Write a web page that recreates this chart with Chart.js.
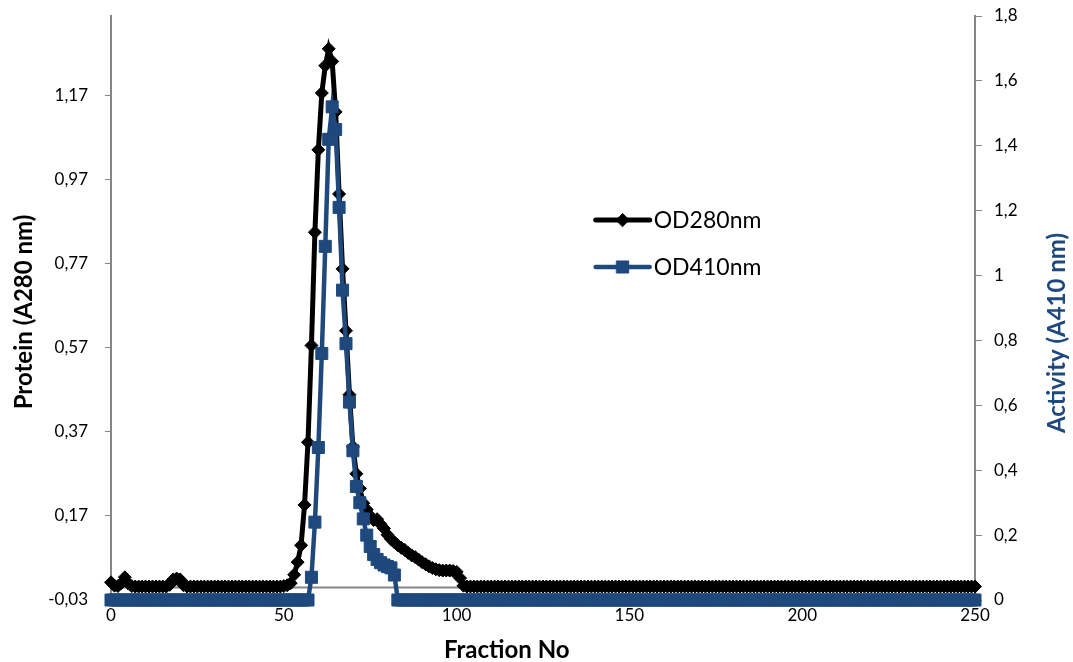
<!DOCTYPE html>
<html>
<head>
<meta charset="utf-8">
<script src="https://cdn.jsdelivr.net/npm/chart.js@4.4.0/dist/chart.umd.min.js"></script>
<style>
html,body{margin:0;padding:0;background:#fff;}
#wrap{width:1073px;height:662px;position:relative;}
</style>
</head>
<body>
<div id="wrap"><canvas id="c" width="1073" height="662"></canvas></div>
<script>
// ---------------- DATA ----------------
const fractionTicks = [0, 50, 100, 150, 200, 250];
const proteinTicks = [-0.03, 0.17, 0.37, 0.57, 0.77, 0.97, 1.17];
const activityTicks = [0, 0.2, 0.4, 0.6, 0.8, 1.0, 1.2, 1.4, 1.6, 1.8];
const seriesLabels = ['OD280nm', 'OD410nm'];
const axisTitles = { x: 'Fraction No', left: 'Protein (A280 nm)', right: 'Activity (A410 nm)' };

// Protein, OD280 (left axis), one value per fraction 0..250
const od280 = [
  0.012,0.004,0.003,0.010,0.024,0.009,0.003,0.002,0.002,0.002,
  0.002,0.002,0.002,0.002,0.002,0.002,0.002,0.006,0.019,0.021,
  0.019,0.005,0.002,0.002,0.002,0.002,0.002,0.002,0.002,0.002,
  0.002,0.002,0.002,0.002,0.002,0.002,0.002,0.002,0.002,0.002,
  0.002,0.002,0.002,0.002,0.002,0.002,0.002,0.002,0.002,0.002,
  0.003,0.005,0.010,0.030,0.060,0.100,0.196,0.345,0.575,0.844,
  1.040,1.175,1.240,1.280,1.250,1.130,0.935,0.757,0.610,0.458,
  0.334,0.270,0.235,0.200,0.185,0.170,0.160,0.162,0.150,0.140,
  0.125,0.115,0.107,0.100,0.094,0.089,0.082,0.076,0.072,0.066,
  0.060,0.055,0.050,0.046,0.043,0.041,0.040,0.040,0.040,0.039,
  0.037,0.022,0.004,0.002,0.002,0.002,0.002,0.002,0.002,0.002,
  0.002,0.002,0.002,0.002,0.002,0.002,0.002,0.002,0.002,0.002,
  0.002,0.002,0.002,0.002,0.002,0.002,0.002,0.002,0.002,0.002,
  0.002,0.002,0.002,0.002,0.002,0.002,0.002,0.002,0.002,0.002,
  0.002,0.002,0.002,0.002,0.002,0.002,0.002,0.002,0.002,0.002,
  0.002,0.002,0.002,0.002,0.002,0.002,0.002,0.002,0.002,0.002,
  0.002,0.002,0.002,0.002,0.002,0.002,0.002,0.002,0.002,0.002,
  0.002,0.002,0.002,0.002,0.002,0.002,0.002,0.002,0.002,0.002,
  0.002,0.002,0.002,0.002,0.002,0.002,0.002,0.002,0.002,0.002,
  0.002,0.002,0.002,0.002,0.002,0.002,0.002,0.002,0.002,0.002,
  0.002,0.002,0.002,0.002,0.002,0.002,0.002,0.002,0.002,0.002,
  0.002,0.002,0.002,0.002,0.002,0.002,0.002,0.002,0.002,0.002,
  0.002,0.002,0.002,0.002,0.002,0.002,0.002,0.002,0.002,0.002,
  0.002,0.002,0.002,0.002,0.002,0.002,0.002,0.002,0.002,0.002,
  0.002,0.002,0.002,0.002,0.002,0.002,0.002,0.002,0.002,0.002,
  0.002
];

// Activity, OD410 (right axis), one value per fraction 0..250
const od410 = [
  0,0,0,0,0,0,0,0,0,0,
  0,0,0,0,0,0,0,0,0,0,
  0,0,0,0,0,0,0,0,0,0,
  0,0,0,0,0,0,0,0,0,0,
  0,0,0,0,0,0,0,0,0,0,
  0,0,0,0,0,0,0,0,0.07,0.24,
  0.47,0.76,1.09,1.42,1.52,1.45,1.21,0.955,0.79,0.61,
  0.46,0.35,0.30,0.25,0.20,0.165,0.14,0.125,0.115,0.108,
  0.103,0.099,0.077,0,0,0,0,0,0,0,
  0,0,0,0,0,0,0,0,0,0,
  0,0,0,0,0,0,0,0,0,0,
  0,0,0,0,0,0,0,0,0,0,
  0,0,0,0,0,0,0,0,0,0,
  0,0,0,0,0,0,0,0,0,0,
  0,0,0,0,0,0,0,0,0,0,
  0,0,0,0,0,0,0,0,0,0,
  0,0,0,0,0,0,0,0,0,0,
  0,0,0,0,0,0,0,0,0,0,
  0,0,0,0,0,0,0,0,0,0,
  0,0,0,0,0,0,0,0,0,0,
  0,0,0,0,0,0,0,0,0,0,
  0,0,0,0,0,0,0,0,0,0,
  0,0,0,0,0,0,0,0,0,0,
  0,0,0,0,0,0,0,0,0,0,
  0,0,0,0,0,0,0,0,0,0,
  0
];

const firstFraction = 0; // fraction numbers run from 0 upward, step 1

// ---------------- STYLE ----------------
const BLUE = '#1F497D';
const BLACK = '#000000';
const GREY = '#868686';
const FONT = 'Lato, "Open Sans", sans-serif';

const toPts = arr => arr.map((v, i) => ({ x: firstFraction + i, y: v }));
const comma2 = v => Number(v).toFixed(2).replace('.', ',');
const comma1 = v => { const r = Math.round(v * 10) / 10; return String(r).replace('.', ','); };

const noPad = s => { s.paddingTop = 0; s.paddingBottom = 0; s.paddingLeft = 0; s.paddingRight = 0; };

const extras = {
  id: 'extras',
  beforeDatasetsDraw(chart) {
    const { ctx, chartArea, scales } = chart;
    const y0 = scales.y.getPixelForValue(0);
    ctx.save();
    ctx.strokeStyle = GREY;
    ctx.lineWidth = 2;
    ctx.beginPath();
    ctx.moveTo(chartArea.left, y0);
    ctx.lineTo(chartArea.right, y0);
    ctx.stroke();
    ctx.restore();
  },
  afterDraw(chart) {
    const { ctx, chartArea } = chart;
    const W = chart.width, H = chart.height;
    const midY = (chartArea.top + chartArea.bottom) / 2;
    ctx.save();
    ctx.textAlign = 'center';
    ctx.textBaseline = 'middle';
    ctx.font = 'bold 24px ' + FONT;
    ctx.fillStyle = BLACK;
    ctx.fillText(axisTitles.x, chartArea.left + (chartArea.right - chartArea.left) * 0.458, H - 12);
    ctx.save();
    ctx.translate(24, midY + 4);
    ctx.rotate(-Math.PI / 2);
    ctx.fillText(axisTitles.left, 0, 0);
    ctx.restore();
    ctx.save();
    ctx.fillStyle = BLUE;
    ctx.translate(W - 16, midY + 25);
    ctx.rotate(-Math.PI / 2);
    ctx.fillText(axisTitles.right, 0, 0);
    ctx.restore();

    // legend
    const lx = chartArea.left + (chartArea.right - chartArea.left) * 0.561;
    const rows = [
      { ds: chart.data.datasets[1], y: chartArea.top + 204 },
      { ds: chart.data.datasets[0], y: chartArea.top + 251 }
    ];
    rows.forEach(r => {
      ctx.strokeStyle = r.ds.borderColor;
      ctx.lineWidth = r.ds.borderWidth;
      ctx.lineCap = 'round';
      ctx.beginPath();
      ctx.moveTo(lx, r.y);
      ctx.lineTo(lx + 54, r.y);
      ctx.stroke();
      ctx.fillStyle = r.ds.pointBackgroundColor;
      ctx.strokeStyle = r.ds.pointBorderColor;
      ctx.lineWidth = 1;
      Chart.helpers.drawPoint(ctx, {
        pointStyle: r.ds.pointStyle, radius: r.ds.pointRadius, borderWidth: 1
      }, lx + 27, r.y);
      ctx.fillStyle = BLACK;
      ctx.textAlign = 'left';
      ctx.font = '23px ' + FONT;
      ctx.fillText(r.ds.label, lx + 58, r.y + 1);
    });
    ctx.restore();
  }
};

new Chart(document.getElementById('c'), {
  type: 'line',
  data: {
    datasets: [
      {
        label: seriesLabels[1], data: toPts(od410), yAxisID: 'y1',
        borderColor: BLUE, backgroundColor: BLUE, borderWidth: 4.5,
        pointStyle: 'rect', pointRadius: 8.5, pointBorderWidth: 1,
        pointBackgroundColor: BLUE, pointBorderColor: BLUE,
        tension: 0, order: 0, clip: false
      },
      {
        label: seriesLabels[0], data: toPts(od280), yAxisID: 'y',
        borderColor: BLACK, backgroundColor: BLACK, borderWidth: 5,
        pointStyle: 'rectRot', pointRadius: 6.5, pointBorderWidth: 1,
        pointBackgroundColor: BLACK, pointBorderColor: BLACK,
        tension: 0, order: 1, clip: false
      }
    ]
  },
  options: {
    responsive: false,
    animation: false,
    devicePixelRatio: 1,
    layout: { padding: { top: 16, left: 0, right: 0, bottom: 0 } },
    plugins: { legend: { display: false }, tooltip: { enabled: false } },
    scales: {
      x: {
        type: 'linear', min: 0, max: 250,
        afterBuildTicks: s => { s.ticks = fractionTicks.map(v => ({ value: v })); },
        grid: { display: false }, border: { display: false },
        ticks: { color: BLACK, font: { family: FONT, size: 17 }, padding: -3, maxRotation: 0, autoSkip: false, callback: v => String(v) },
        afterFit: s => { s.height = 62; noPad(s); }
      },
      y: {
        position: 'left', min: -0.03, max: 1.358,
        afterBuildTicks: s => { s.ticks = proteinTicks.map(v => ({ value: v })); },
        grid: { drawOnChartArea: false, color: GREY, tickLength: 6, lineWidth: 1 },
        border: { color: GREY, width: 2 },
        ticks: { color: BLACK, font: { family: FONT, size: 17 }, padding: 17, autoSkip: false, callback: v => comma2(v) },
        afterFit: s => { s.width = 111; noPad(s); }
      },
      y1: {
        position: 'right', min: 0, max: 1.8,
        afterBuildTicks: s => { s.ticks = activityTicks.map(v => ({ value: v })); },
        grid: { drawOnChartArea: false, color: GREY, tickLength: 7, lineWidth: 1 },
        border: { color: GREY, width: 2 },
        ticks: { color: BLACK, font: { family: FONT, size: 17 }, padding: 12, autoSkip: false, callback: v => comma1(v) },
        afterFit: s => { s.width = 98; noPad(s); }
      }
    }
  },
  plugins: [extras]
});
</script>
</body>
</html>
